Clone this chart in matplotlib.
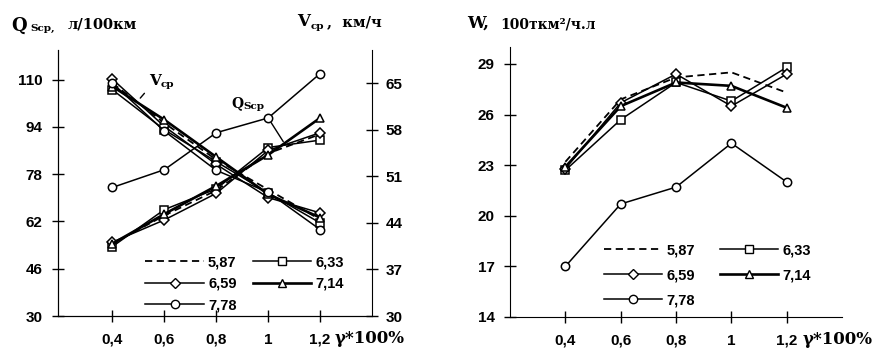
import matplotlib
matplotlib.use("Agg")
import matplotlib.pyplot as plt
from matplotlib.lines import Line2D

# gamma * 100 %
gamma = [0.4, 0.6, 0.8, 1.0, 1.2]
gamma_labels = ["0,4", "0,6", "0,8", "1", "1,2"]
series = ["5,87", "6,33", "6,59", "7,14", "7,78"]

# fuel consumption Q_Scp, l/100km (left axis)
q_587 = [54.5, 64.0, 72.5, 85.0, 91.5]
q_633 = [53.5, 66.0, 73.0, 87.0, 89.5]
q_659 = [55.0, 62.5, 71.5, 86.0, 92.0]
q_714 = [54.5, 64.5, 74.0, 84.5, 97.0]
q_778 = [73.5, 79.5, 92.0, 97.0, 112.0]

# mean speed V_cp, km/h (right axis)
v_587 = [65.0, 59.0, 53.5, 49.0, 44.5]
v_633 = [64.0, 58.0, 53.2, 48.5, 44.0]
v_659 = [65.6, 58.5, 52.8, 47.8, 45.5]
v_714 = [64.5, 59.5, 53.9, 48.3, 44.8]
v_778 = [65.0, 57.8, 51.9, 48.6, 43.0]

# productivity W
w_587 = [23.2, 26.9, 28.2, 28.5, 27.3]
w_633 = [22.7, 25.7, 27.9, 26.8, 28.8]
w_659 = [22.8, 26.7, 28.4, 26.5, 28.4]
w_714 = [22.9, 26.5, 27.9, 27.7, 26.4]
w_778 = [17.0, 20.7, 21.7, 24.3, 22.0]

q_ticks = [30, 46, 62, 78, 94, 110]
v_ticks = [30, 37, 44, 51, 58, 65]
w_ticks = [14, 17, 20, 23, 26, 29]

styles = {
    "5,87": dict(ls=(0, (4, 2.5)), marker=None, lw=1.3),
    "6,33": dict(ls="-", marker="s", lw=1.1),
    "6,59": dict(ls="-", marker="D", lw=1.1, ms=5),
    "7,14": dict(ls="-", marker="^", lw=1.9),
    "7,78": dict(ls="-", marker="o", lw=1.1),
}

plt.rcParams["font.family"] = ["Liberation Sans", "DejaVu Sans"]
plt.rcParams["font.weight"] = "bold"

fig = plt.figure(figsize=(8.84, 3.51), dpi=100)
ax1 = fig.add_axes([0.0656, 0.0997, 0.3552, 0.758])
ax1r = ax1.twinx()
ax2 = fig.add_axes([0.577, 0.0969, 0.3756, 0.769])


def draw(ax, ys_list):
    for name, ys in zip(series, ys_list):
        st = styles[name]
        ax.plot(gamma, ys, color="black", linestyle=st["ls"], lw=st["lw"],
                marker=st["marker"], ms=st.get("ms", 6), mfc="white",
                mec="black", mew=1.1, zorder=3)


draw(ax1, [q_587, q_633, q_659, q_714, q_778])
draw(ax1r, [v_587, v_633, v_659, v_714, v_778])
draw(ax2, [w_587, w_633, w_659, w_714, w_778])

ax1.set_xlim(0.19, 1.4)
ax1.set_ylim(30, 120)
ax1r.set_ylim(30, 70)
ax2.set_xlim(0.2, 1.4)
ax2.set_ylim(14, 30)

for ax in (ax1, ax1r, ax2):
    ax.spines["top"].set_visible(False)
    ax.set_xticks(gamma)
    ax.set_xticklabels(gamma_labels)
    ax.tick_params(direction="inout", length=8, width=1, labelsize=11)
    ax.tick_params(axis="x", pad=8)
ax2.spines["right"].set_visible(False)
ax1.spines["right"].set_visible(False)

ax1.set_yticks(q_ticks)
ax1.tick_params(axis="y", pad=7)
ax1r.set_yticks(v_ticks)
ax1r.tick_params(axis="y", pad=6)
ax2.set_yticks(w_ticks)
ax2.tick_params(axis="y", pad=7)

serif = dict(family="DejaVu Serif", fontweight="bold")
for ax in (ax1, ax2):
    ax.text(0.882, -0.085, "γ*100%", transform=ax.transAxes, ha="left",
            va="center", fontsize=12, **serif)

# annotations on the left panel
ax1.annotate("V", xy=(0.5, 103), xytext=(0.54, 108), fontsize=11,
             arrowprops=dict(arrowstyle="-", lw=1, color="black"), **serif)
ax1.text(0.585, 107.3, "ср", fontsize=7.5, **serif)
ax1.text(0.86, 100.5, "Q", fontsize=10, **serif)
ax1.text(0.905, 100, "Scp", fontsize=7.5, **serif)
ax1.annotate("", xy=(1.058, 89), xytext=(1.0, 97),
             arrowprops=dict(arrowstyle="-", lw=1, color="black",
                             shrinkA=4, shrinkB=0))


def legend(ax, anchor, colsp, labsp):
    h = {}
    for name in series:
        st = styles[name]
        h[name] = Line2D([], [], color="black", linestyle=st["ls"],
                         lw=st["lw"], marker=st["marker"],
                         ms=st.get("ms", 6), mfc="white", mec="black")
    order = ["5,87", "6,59", "7,78", "6,33", "7,14"]
    ax.legend([h[n] for n in order], order, ncol=2, frameon=False,
              loc="upper left", bbox_to_anchor=anchor, borderpad=0,
              handlelength=4.0, handletextpad=0.3, columnspacing=colsp,
              labelspacing=labsp, fontsize=10.5)


legend(ax1, (0.255, 0.255), 1.1, 0.5)
legend(ax2, (0.26, 0.30), 1.7, 0.75)

# axis titles
fig.text(11 / 884, 1 - 31 / 351, "Q", fontsize=13, va="baseline", **serif)
fig.text(30 / 884, 1 - 31 / 351, "Sср,", fontsize=7.5, va="baseline", **serif)
fig.text(68 / 884, 1 - 29 / 351, "л/100км", fontsize=10.5, va="baseline",
         **serif)
fig.text(297 / 884, 1 - 26 / 351, "V", fontsize=12, va="baseline", **serif)
fig.text(311 / 884, 1 - 29 / 351, "ср", fontsize=7.5, va="baseline", **serif)
fig.text(327 / 884, 1 - 26 / 351, ",  км/ч", fontsize=10.5, va="baseline",
         **serif)
fig.text(467 / 884, 1 - 28 / 351, "W,", fontsize=12, va="baseline", **serif)
fig.text(500 / 884, 1 - 28 / 351, "100ткм²/ч.л", fontsize=10, va="baseline",
         **serif)

fig.savefig("out.png", dpi=100, facecolor="white")
